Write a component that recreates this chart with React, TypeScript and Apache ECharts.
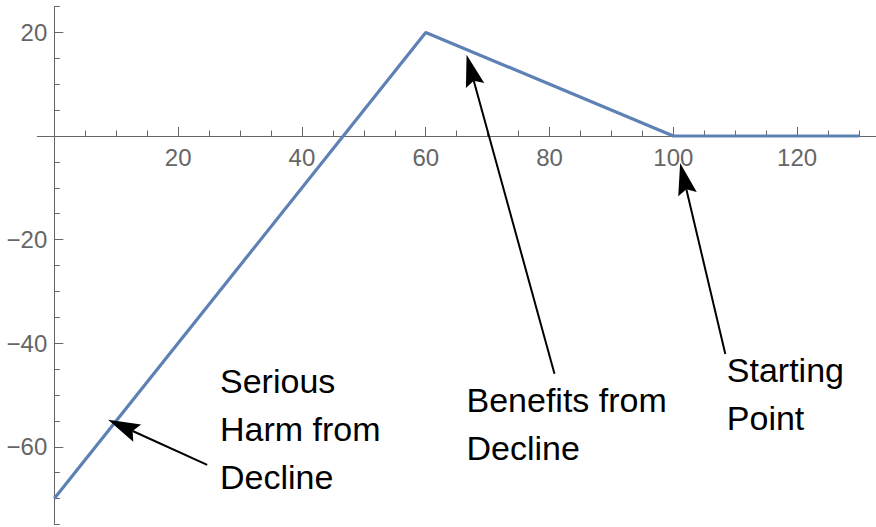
import React, { useEffect, useRef } from "react";
import * as echarts from "echarts";

// ---- data ----
const xValues = [0, 60, 100, 130];
const yValues = [-70, 20, 0, 0];

const xTickLabels = [20, 40, 60, 80, 100, 120];
const xMinorTicks = [5, 10, 15, 25, 30, 35, 45, 50, 55, 65, 70, 75, 85, 90, 95, 105, 110, 115, 125, 130];
const yTickLabels = [-60, -40, -20, 20];
const yMinorTicks = [-75, -70, -65, -55, -50, -45, -35, -30, -25, -15, -10, -5, 5, 10, 15, 25];

const annotationTexts = ["Serious\nHarm from\nDecline", "Benefits from\nDecline", "Starting\nPoint"];
// top-left of each text block, in data units
const annotationTextAt = [
  [26.77, -42.57],
  [66.59, -46.24],
  [108.64, -40.6],
];
const arrowTails = [
  [24.7, -63.5],
  [80.8, -45.9],
  [108.4, -42.1],
];
const arrowTips = [
  [8.68, -54.8],
  [66.6, 15.7],
  [101.1, -5.2],
];

const X_MIN = -2.75;
const X_MAX = 133;
const Y_MIN = -75;
const Y_MAX = 25;

const GRID_LEFT = 37.3;
const GRID_TOP = 6.5;
const GRID_W = 840.3;
const GRID_H = 518;

// axes cross at the origin: shift each axis from its grid edge to the zero of the other one
const X_AXIS_OFFSET = -(GRID_H * (0 - Y_MIN)) / (Y_MAX - Y_MIN);
const Y_AXIS_OFFSET = -(GRID_W * (0 - X_MIN)) / (X_MAX - X_MIN);

const AXIS_COLOR = "#666666";
const FONT = "Liberation Sans, Arial, sans-serif";

const minus = (v: number) => String(v).replace("-", "\u2212");

export default function App() {
  const ref = useRef<HTMLDivElement>(null);

  useEffect(() => {
    if (!ref.current) return;
    const chart = echarts.init(ref.current, undefined, { renderer: "svg" });

    const baseX = {
      type: "value" as const,
      min: X_MIN,
      max: X_MAX,
      position: "bottom" as const,
      offset: X_AXIS_OFFSET,
      splitLine: { show: false },
    };
    const baseY = {
      type: "value" as const,
      min: Y_MIN,
      max: Y_MAX,
      position: "left" as const,
      offset: Y_AXIS_OFFSET,
      splitLine: { show: false },
    };

    chart.setOption({
      animation: false,
      grid: {
        left: GRID_LEFT,
        top: GRID_TOP,
        width: GRID_W,
        height: GRID_H,
        containLabel: false,
        outerBoundsMode: "none",
      },
      xAxis: [
        {
          ...baseX,
          axisLine: { show: true, onZero: false, lineStyle: { color: AXIS_COLOR, width: 1 } },
          axisTick: { show: true, inside: true, length: 9, customValues: xTickLabels, lineStyle: { color: AXIS_COLOR, width: 1 } },
          axisLabel: {
            show: true,
            customValues: xTickLabels,
            margin: 9,
            color: AXIS_COLOR,
            fontSize: 24,
            fontFamily: FONT,
          },
        },
        {
          ...baseX,
          axisLine: { show: false, onZero: false },
          axisTick: { show: true, inside: true, length: 5.5, customValues: xMinorTicks, lineStyle: { color: AXIS_COLOR, width: 1 } },
          axisLabel: { show: false },
        },
      ],
      yAxis: [
        {
          ...baseY,
          axisLine: { show: true, onZero: false, lineStyle: { color: AXIS_COLOR, width: 1 } },
          axisTick: { show: true, inside: true, length: 9, customValues: yTickLabels, lineStyle: { color: AXIS_COLOR, width: 1 } },
          axisLabel: {
            show: true,
            customValues: yTickLabels,
            margin: 7,
            color: AXIS_COLOR,
            fontSize: 24,
            fontFamily: FONT,
            formatter: (v: number) => minus(v),
          },
        },
        {
          ...baseY,
          axisLine: { show: false, onZero: false },
          axisTick: { show: true, inside: true, length: 5.5, customValues: yMinorTicks, lineStyle: { color: AXIS_COLOR, width: 1 } },
          axisLabel: { show: false },
        },
      ],
      series: [
        {
          type: "line",
          xAxisIndex: 0,
          yAxisIndex: 0,
          data: xValues.map((x, i) => [x, yValues[i]]),
          symbol: "none",
          lineStyle: { color: "#5E81B5", width: 3.2 },
          itemStyle: { color: "#5E81B5" },
          z: 3,
        },
      ],
    });

    const toPx = (p: number[]) => chart.convertToPixel({ gridIndex: 0 }, p) as number[];
    const graphics: any[] = [];

    annotationTexts.forEach((t, i) => {
      const [x, y] = toPx(annotationTextAt[i]);
      graphics.push({
        type: "text",
        x,
        y,
        z: 10,
        silent: true,
        style: {
          text: t,
          fill: "#000",
          fontSize: 34,
          fontFamily: FONT,
          lineHeight: 48,
          align: "left",
          verticalAlign: "top",
        },
      });
    });

    const L = 32;
    const W = 9.5;
    const NOTCH = 5;
    arrowTips.forEach((tipD, i) => {
      const tip = toPx(tipD);
      const tail = toPx(arrowTails[i]);
      const dx = tip[0] - tail[0];
      const dy = tip[1] - tail[1];
      const len = Math.hypot(dx, dy);
      const ux = dx / len;
      const uy = dy / len;
      const nx = -uy;
      const ny = ux;
      const back = [tip[0] - ux * L, tip[1] - uy * L];
      const notch = [tip[0] - ux * (L - NOTCH), tip[1] - uy * (L - NOTCH)];
      graphics.push({
        type: "line",
        z: 10,
        silent: true,
        shape: { x1: tail[0], y1: tail[1], x2: notch[0], y2: notch[1] },
        style: { stroke: "#000", lineWidth: 2 },
      });
      graphics.push({
        type: "polygon",
        z: 10,
        silent: true,
        shape: {
          points: [
            tip,
            [back[0] + nx * W, back[1] + ny * W],
            notch,
            [back[0] - nx * W, back[1] - ny * W],
          ],
        },
        style: { fill: "#000" },
      });
    });

    chart.setOption({ graphic: graphics });

    return () => chart.dispose();
  }, []);

  return (
    <div
      ref={ref}
      style={{ position: "fixed", left: 0, top: 0, width: 876, height: 527, background: "#fff" }}
    />
  );
}
